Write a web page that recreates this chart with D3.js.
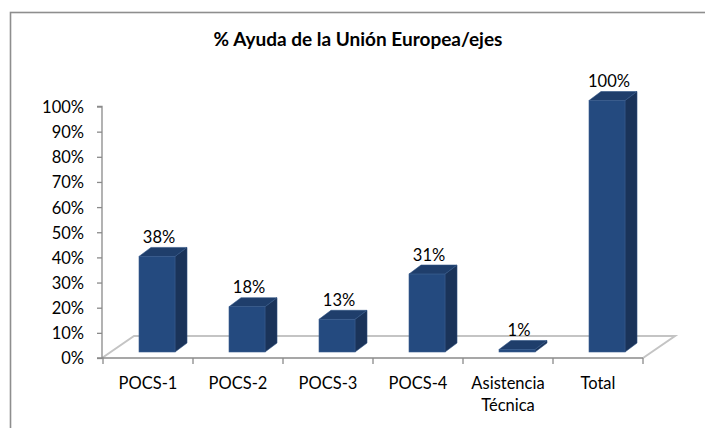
<!DOCTYPE html>
<html>
<head>
<meta charset="utf-8">
<script src="https://cdn.jsdelivr.net/npm/d3@7"></script>
<style>
  html, body { margin: 0; padding: 0; background: #fff; }
  svg { display: block; }
  text { font-family: Lato, "Open Sans", sans-serif; fill: #000; }
</style>
</head>
<body>
<svg id="chart" width="705" height="428"></svg>
<script>
// Chart data
const title = "% Ayuda de la Unión Europea/ejes";
const categories = ["POCS-1", "POCS-2", "POCS-3", "POCS-4", "Asistencia\nTécnica", "Total"];
const values = [0.38, 0.18, 0.13, 0.31, 0.01, 1.00];
const valueLabels = ["38%", "18%", "13%", "31%", "1%", "100%"];
const tickValues = [0, 0.1, 0.2, 0.3, 0.4, 0.5, 0.6, 0.7, 0.8, 0.9, 1.0];

const svg = d3.select("#chart");
const labelSize = 16.5;

// Outer chart frame (runs past the right and bottom edges of the view)
svg.append("rect")
  .attr("x", 10.5).attr("y", 12.5)
  .attr("width", 800).attr("height", 500)
  .attr("fill", "none")
  .attr("stroke", "#8e8e8e")
  .attr("stroke-width", 1.6);

// Title
svg.append("text")
  .attr("x", 358).attr("y", 46)
  .attr("text-anchor", "middle")
  .attr("font-size", 19)
  .attr("font-weight", "bold")
  .text(title);

// Scales
const x = d3.scaleBand().domain(categories).range([103, 643]).padding(0);
const y = d3.scaleLinear().domain([0, 1]).range([358, 106.5]);
const bw = x.bandwidth();

// 3D projection offsets
const floorDepth = { dx: 32, dy: -22 };   // full depth of the floor
const barShift = { dx: 0, dy: -6 };        // front face of bars sits inside the floor
const barDepth = { dx: 12, dy: -9 };       // depth of each bar

// Floor (parallelogram)
const fx0 = 102, fx1 = 643, fy = 358;
svg.append("path")
  .attr("d", `M${fx0},${fy} L${fx0 + floorDepth.dx},${fy + floorDepth.dy} L${fx1 + floorDepth.dx},${fy + floorDepth.dy} L${fx1},${fy}`)
  .attr("fill", "none")
  .attr("stroke", "#c4c4c4")
  .attr("stroke-width", 2);

// Value axis
const yAxis = d3.axisLeft(y)
  .tickValues(tickValues)
  .tickFormat(d3.format(".0%"))
  .tickSize(5)
  .tickPadding(13);
const gy = svg.append("g").attr("transform", "translate(102,0)").call(yAxis);
gy.select(".domain").attr("stroke", "#8a8a8a").attr("stroke-width", 1.3).attr("d", `M-5,${y(1)}H0V${y(0)}H-5`);
gy.selectAll(".tick line").attr("stroke", "#8a8a8a").attr("stroke-width", 1.3);
gy.selectAll(".tick text")
  .attr("font-size", labelSize)
  .attr("font-family", "Lato, sans-serif")
  .attr("fill", "#000")
  .attr("dy", "0.36em");

// Category axis
const xAxis = d3.axisBottom(x).tickSize(0).tickFormat("");
const gx = svg.append("g").attr("transform", `translate(0,${fy})`).call(xAxis);
gx.select(".domain").attr("stroke", "#8a8a8a").attr("stroke-width", 1.3).attr("d", `M102,0H643`);
// tick marks on category boundaries
const boundaries = categories.map(c => x(c)).concat([x(categories[categories.length - 1]) + bw]);
gx.selectAll(".bound")
  .data(boundaries)
  .join("line")
  .attr("class", "bound")
  .attr("x1", d => d).attr("x2", d => d)
  .attr("y1", 0).attr("y2", 6)
  .attr("stroke", "#8a8a8a").attr("stroke-width", 1.3);

// Category labels (multi-line where needed)
const catLabels = svg.append("g");
categories.forEach(c => {
  const lines = c.split("\n");
  const t = catLabels.append("text")
    .attr("x", x(c) + bw / 2)
    .attr("y", 389)
    .attr("text-anchor", "middle")
    .attr("font-size", labelSize);
  lines.forEach((ln, i) => {
    t.append("tspan")
      .attr("x", x(c) + bw / 2)
      .attr("dy", i === 0 ? 0 : 22)
      .text(ln);
  });
});

// Bars
const data = categories.map((c, i) => ({ c, v: values[i], label: valueLabels[i] }));
const bars = svg.append("g").selectAll("g.bar").data(data).join("g").attr("class", "bar");

const frontL = d => x(d.c) + bw * 0.4 + barShift.dx;
const frontR = d => frontL(d) + bw * 0.4;
const frontB = d => y(0) + barShift.dy;
const frontT = d => y(d.v) + barShift.dy;

// Side face
bars.append("path")
  .attr("d", d => {
    const r = frontR(d), t = frontT(d), b = frontB(d);
    return `M${r},${b} L${r + barDepth.dx},${b + barDepth.dy} L${r + barDepth.dx},${t + barDepth.dy} L${r},${t} Z`;
  })
  .attr("fill", "#1a3359")
  .attr("stroke", "#2c4d7c")
  .attr("stroke-width", 0.6);

// Top face
bars.append("path")
  .attr("d", d => {
    const l = frontL(d), r = frontR(d), t = frontT(d);
    return `M${l},${t} L${l + barDepth.dx},${t + barDepth.dy} L${r + barDepth.dx},${t + barDepth.dy} L${r},${t} Z`;
  })
  .attr("fill", "#1f3e6b")
  .attr("stroke", "#2f5283")
  .attr("stroke-width", 0.6);

// Front face
bars.append("rect")
  .attr("x", d => frontL(d))
  .attr("y", d => frontT(d))
  .attr("width", bw * 0.4)
  .attr("height", d => frontB(d) - frontT(d))
  .attr("fill", "#244a7f")
  .attr("stroke", "#3a5d8e")
  .attr("stroke-width", 0.6);

// Value labels
bars.append("text")
  .attr("x", d => (frontL(d) + frontR(d)) / 2 + 2)
  .attr("y", d => frontT(d) + barDepth.dy - 4.5)
  .attr("text-anchor", "middle")
  .attr("font-size", labelSize)
  .text(d => d.label);
</script>
</body>
</html>
